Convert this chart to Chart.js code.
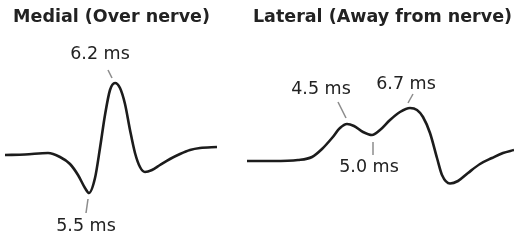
<!DOCTYPE html>
<html>
<head>
<meta charset="utf-8">
<script src="https://cdn.jsdelivr.net/npm/chart.js@4.4.1/dist/chart.umd.min.js"></script>
<style>
  html, body { margin: 0; padding: 0; background: #fff; }
  #wrap { position: relative; width: 514px; height: 240px; }
  canvas { position: absolute; top: 0; }
  #medial { left: 0; }
  #lateral { left: 223px; }
</style>
</head>
<body>
<div id="wrap">
  <canvas id="medial" width="223" height="240"></canvas>
  <canvas id="lateral" width="291" height="240"></canvas>
</div>
<script>
// medial recording (over nerve) - sample position vs amplitude
const medialX = [5, 25, 48, 60, 70, 78, 85, 89, 95, 100, 105, 110, 115, 120, 125, 130, 135, 140, 145, 152, 160, 170, 180, 190, 200, 217];
const medialAmp = [0, 0.5, 2, -2, -9, -20, -33, -38, -23, 7, 40, 65, 72, 67, 51, 25, 2, -12, -17, -15, -10, -4, 1, 5, 7, 8];
const medialPeakIdx = [12, 7];
const medialPeakText = ['6.2 ms', '5.5 ms'];

// lateral recording (away from nerve)
const lateralX = [7, 33, 58, 72, 82, 92, 100, 107, 114, 123, 132, 140, 150, 160, 170, 177, 183, 190, 197, 202, 210, 218, 228, 240, 252, 263, 274];
const lateralAmp = [0, 0, 1, 4, 12, 23, 33, 37, 35, 29, 26, 31, 41, 49, 53, 51, 44, 28, 3, -14, -22.5, -20, -12, -3, 3, 8, 11];
const lateralPeakIdx = [7, 14, 10];
const lateralPeakText = ['4.5 ms', '6.7 ms', '5.0 ms'];

// label placement relative to the marked point: [labelDx, labelDy, lineX1, lineY1, lineX2, lineY2]
const medialPlace = [[-15, -29, -3, -5, -7, -13], [-3, 33, -1, 6, -3, 20]];
const lateralPlace = [[-26, -35, -1, -6, -9, -22], [-4, -24, -2, -5, 3, -14], [-3, 32, 1, 7, 1, 20]];

const FONT = "'DejaVu Sans', sans-serif";

const peakLabels = {
  id: 'peakLabels',
  afterDatasetsDraw(chart, args, opts) {
    const ctx = chart.ctx;
    const pts = chart.getDatasetMeta(0).data;
    ctx.save();
    opts.idx.forEach((i, k) => {
      const p = pts[i];
      const pl = opts.place[k];
      ctx.strokeStyle = '#8c8c8c';
      ctx.lineWidth = 1.5;
      ctx.beginPath();
      ctx.moveTo(p.x + pl[2], p.y + pl[3]);
      ctx.lineTo(p.x + pl[4], p.y + pl[5]);
      ctx.stroke();
      ctx.fillStyle = '#222';
      ctx.font = '17.5px ' + FONT;
      ctx.textAlign = 'center';
      ctx.textBaseline = 'middle';
      ctx.fillText(opts.text[k], p.x + pl[0], p.y + pl[1]);
    });
    ctx.restore();
  }
};

function makeChart(id, xs, ys, title, align, xMin, xMax, yMin, yMax, padRight, idx, text, place) {
  return new Chart(document.getElementById(id), {
    type: 'line',
    data: {
      datasets: [{
        data: xs.map((x, i) => ({ x: x, y: ys[i] })),
        borderColor: '#1c1c1c',
        borderWidth: 2.6,
        pointRadius: 0,
        fill: false,
        cubicInterpolationMode: 'monotone',
        clip: false
      }]
    },
    options: {
      responsive: false,
      animation: false,
      layout: { padding: { left: 0, right: padRight, top: 0, bottom: 0 } },
      scales: {
        x: { type: 'linear', display: false, min: xMin, max: xMax },
        y: { display: false, min: yMin, max: yMax }
      },
      plugins: {
        legend: { display: false },
        tooltip: { enabled: false },
        title: {
          display: true,
          text: title,
          align: align,
          color: '#222',
          font: { family: FONT, size: 17.5, weight: 'bold' },
          padding: { top: 7, bottom: 0 }
        },
        peakLabels: { idx: idx, text: text, place: place }
      }
    },
    plugins: [peakLabels]
  });
}

makeChart('medial', medialX, medialAmp, 'Medial (Over nerve)', 'center',
  0, 223, -85, 127, 0, medialPeakIdx, medialPeakText, medialPlace);
makeChart('lateral', lateralX, lateralAmp, 'Lateral (Away from nerve)', 'end',
  -17, 272, -79, 133, 2, lateralPeakIdx, lateralPeakText, lateralPlace);
</script>
</body>
</html>
